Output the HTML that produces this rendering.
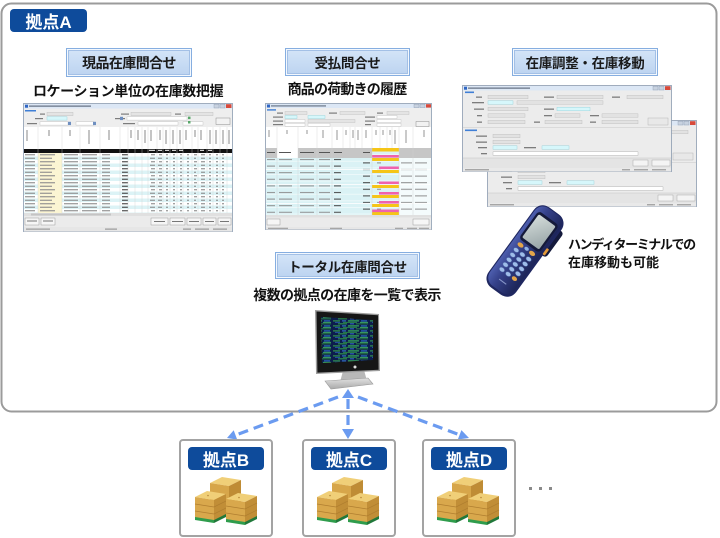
<!DOCTYPE html>
<html><head><meta charset="utf-8">
<style>
html,body{margin:0;padding:0;background:#fff;}
#c{position:relative;width:720px;height:538px;overflow:hidden;background:#fff;font-family:"Liberation Sans","Noto Sans CJK JP",sans-serif;}
svg{position:absolute;left:0;top:0;}
.t{position:absolute;font-weight:bold;color:#111;white-space:nowrap;font-size:14px;line-height:16px;text-align:center;}
.lbl{position:absolute;box-sizing:border-box;border:1.5px solid #86aee0;background:linear-gradient(#d4e5f8,#bcd3f0);box-shadow:inset 0 0 0 1px #f3f8fe, inset 0 0 0 2px #a3c0e6;display:flex;align-items:center;justify-content:center;font-weight:bold;font-size:13.5px;color:#1a1a1a;letter-spacing:-0.3px;}
.bdg{position:absolute;background:#0e4b9b;border-radius:4px;color:#fff;font-weight:bold;font-size:17px;display:flex;align-items:center;justify-content:center;}
</style></head>
<body><div id="c">
<svg width="720" height="538" viewBox="0 0 720 538">
<defs>
 <pattern id="r1" x="0" y="50" width="210" height="7" patternUnits="userSpaceOnUse">
  <rect width="210" height="3.5" fill="#ffffff"/>
  <rect y="3.5" width="210" height="3.5" fill="#dcf3f6"/>
  <rect x="15" width="24" height="7" fill="#fbf5d3"/>
  <g fill="#8c8c8c">
   <rect x="2" y="1.2" width="10" height="1.1"/><rect x="17" y="1.2" width="15" height="1.1"/><rect x="41" y="1.2" width="14" height="1.1"/><rect x="59" y="1.2" width="15" height="1.1"/><rect x="79" y="1.2" width="8" height="1.1"/><rect x="99" y="1.2" width="6" height="1.1" fill="#444"/>
   <rect x="128" y="1.2" width="4" height="1.1"/><rect x="136" y="1.2" width="3" height="1.1"/><rect x="143" y="1.2" width="2" height="1.1"/><rect x="150" y="1.2" width="2" height="1.1"/><rect x="157" y="1.2" width="2" height="1.1"/><rect x="164" y="1.2" width="2" height="1.1"/><rect x="171" y="1.2" width="3" height="1.1"/><rect x="178" y="1.2" width="4" height="1.1"/><rect x="186" y="1.2" width="2" height="1.1"/><rect x="193" y="1.2" width="2" height="1.1"/><rect x="199" y="1.2" width="2" height="1.1"/>
   <rect x="2" y="4.7" width="10" height="1.1"/><rect x="17" y="4.7" width="12" height="1.1"/><rect x="41" y="4.7" width="14" height="1.1"/><rect x="59" y="4.7" width="15" height="1.1"/><rect x="79" y="4.7" width="8" height="1.1"/><rect x="99" y="4.7" width="6" height="1.1" fill="#444"/>
   <rect x="127" y="4.7" width="5" height="1.1"/><rect x="135" y="4.7" width="4" height="1.1"/><rect x="143" y="4.7" width="2" height="1.1"/><rect x="150" y="4.7" width="2" height="1.1"/><rect x="157" y="4.7" width="2" height="1.1"/><rect x="164" y="4.7" width="2" height="1.1"/><rect x="171" y="4.7" width="2" height="1.1"/><rect x="178" y="4.7" width="4" height="1.1"/><rect x="186" y="4.7" width="2" height="1.1"/><rect x="193" y="4.7" width="2" height="1.1"/><rect x="199" y="4.7" width="2" height="1.1"/>
  </g>
 </pattern>
 <pattern id="r2" x="0" y="55" width="167" height="6.6" patternUnits="userSpaceOnUse">
  <rect width="167" height="6.6" fill="#daf2f5"/>
  <rect y="3" width="167" height="0.5" fill="#ffffff"/>
  <rect x="134" width="33" height="6.6" fill="#f4fbfc"/>
  <g fill="#8e8e8e">
   <rect x="2" y="1" width="8" height="1"/><rect x="14" y="1" width="13" height="1"/><rect x="35" y="1" width="14" height="1"/><rect x="54" y="1" width="11" height="1"/><rect x="69" y="1" width="7" height="1" fill="#444"/>
   <rect x="98" y="4.4" width="7" height="1" fill="#444"/><rect x="112" y="4.4" width="4" height="1"/><rect x="136" y="4.4" width="11" height="1"/><rect x="150" y="4.4" width="12" height="1"/>
  </g>
 </pattern>
 <pattern id="scr" x="0" y="0" width="37" height="5" patternUnits="userSpaceOnUse">
  <rect width="37" height="5" fill="#0c1d4c"/>
  <rect x="0" y="0.4" width="7" height="1" fill="#3aa84c"/>
  <rect x="9" y="0.4" width="4" height="1" fill="#3a78d8"/>
  <rect x="15" y="0.4" width="11" height="1" fill="#40c25e"/>
  <rect x="28" y="0.4" width="6" height="1" fill="#2f6fd0"/>
  <rect x="2" y="1.9" width="5" height="0.8" fill="#2a5fb8"/>
  <rect x="10" y="1.9" width="14" height="0.8" fill="#2e9a4a"/>
  <rect x="27" y="1.9" width="8" height="0.8" fill="#48c868"/>
  <rect x="5" y="3.4" width="9" height="0.9" fill="#36b050"/>
  <rect x="17" y="3.4" width="4" height="0.9" fill="#3a78d8"/>
  <rect x="23" y="3.4" width="12" height="0.9" fill="#2c8c46"/>
 </pattern>
 <linearGradient id="hhg" x1="0" y1="0" x2="1" y2="0">
  <stop offset="0" stop-color="#4d5eae"/><stop offset="0.35" stop-color="#35418a"/><stop offset="1" stop-color="#1d2558"/>
 </linearGradient>
 <linearGradient id="hsg" x1="0" y1="0" x2="1" y2="1">
  <stop offset="0" stop-color="#d4dcda"/><stop offset="1" stop-color="#97a4a6"/>
 </linearGradient>
 <linearGradient id="stg" x1="0" y1="0" x2="0" y2="1">
  <stop offset="0" stop-color="#e2e2e2"/><stop offset="1" stop-color="#a9a9a9"/>
 </linearGradient>
 <g id="win">
  <rect x="0.5" y="0.5" width="209" height="86" fill="#ececec" stroke="#8b9bb0" stroke-width="0.8"/>
  <rect x="1" y="1" width="208" height="4.5" fill="#dce7f5"/>
  <rect x="2" y="1.7" width="3" height="3" fill="#2f66c4"/>
  <rect x="6" y="2.4" width="62" height="1.5" fill="#7a8698"/>
  <rect x="191" y="1.2" width="5" height="3.8" fill="#c8d2e0" stroke="#8d9bb0" stroke-width="0.4"/>
  <rect x="197" y="1.2" width="5" height="3.8" fill="#c8d2e0" stroke="#8d9bb0" stroke-width="0.4"/>
  <rect x="203" y="1.2" width="5.5" height="3.8" fill="#d84a3a"/>
  <rect x="3" y="6.5" width="9" height="1.6" fill="#3f7fd6"/>
  <rect x="3" y="44.5" width="12" height="1.6" fill="#3f7fd6"/>
  <line x1="1" y1="42.5" x2="209" y2="42.5" stroke="#c8c8c8" stroke-width="0.5"/>
  <g fill="#7c7c7c">
   <rect x="14" y="11.5" width="6" height="1.3"/><rect x="82" y="11.5" width="10" height="1.3"/><rect x="150" y="11.5" width="8" height="1.3"/>
   <rect x="10" y="17" width="12" height="1.3"/>
   <rect x="12" y="23.5" width="10" height="1.3"/><rect x="82" y="23.5" width="10" height="1.3"/>
   <rect x="15" y="30" width="5" height="1.3"/><rect x="82" y="30" width="8" height="1.3"/><rect x="128" y="30" width="9" height="1.3"/>
   <rect x="15" y="36.5" width="5" height="1.3"/><rect x="72" y="36.5" width="6" height="1.3"/><rect x="128" y="36.5" width="6" height="1.3"/>
   <rect x="14" y="50.5" width="11" height="1.3"/><rect x="14" y="56.5" width="11" height="1.3"/>
   <rect x="16" y="62" width="9" height="1.3"/><rect x="62" y="62" width="12" height="1.3"/>
   <rect x="19" y="68" width="6" height="1.3"/>
  </g>
  <g stroke="#bbbbbb" stroke-width="0.4" fill="#e2e2e2">
   <rect x="26" y="10.3" width="40" height="3.5"/><rect x="95" y="10.3" width="46" height="3.5"/><rect x="165" y="10.3" width="36" height="3.5"/>
   <rect x="55" y="15.8" width="86" height="3.5"/>
   <rect x="26" y="22.3" width="40" height="3.5"/>
   <rect x="26" y="28.8" width="37" height="3.5"/><rect x="93" y="28.8" width="25" height="3.5"/><rect x="140" y="28.8" width="36" height="3.5"/>
   <rect x="26" y="35.3" width="37" height="3.5"/><rect x="83" y="35.3" width="37" height="3.5"/><rect x="140" y="35.3" width="36" height="3.5"/>
   <rect x="31" y="49.3" width="27" height="3.5"/><rect x="31" y="55.3" width="27" height="3.5"/>
   <rect x="186" y="33" width="20" height="7" fill="#e8e8e8" stroke="#aaaaaa"/>
  </g>
  <g stroke="#8fcfd8" stroke-width="0.4" fill="#d6f7fb">
   <rect x="26" y="15.8" width="25" height="3.5"/><rect x="95" y="22.3" width="33" height="3.5"/>
   <rect x="31" y="60.8" width="24" height="3.5"/><rect x="80" y="60.8" width="27" height="3.5"/>
  </g>
  <rect x="31" y="66.8" width="145" height="3.5" fill="#ffffff" stroke="#aaaaaa" stroke-width="0.4"/>
  <rect x="1" y="73" width="208" height="10" fill="#e4e4e4"/>
  <line x1="1" y1="73" x2="209" y2="73" stroke="#c4c4c4" stroke-width="0.5"/>
  <rect x="171" y="75" width="15" height="6" fill="#f4f4f4" stroke="#999" stroke-width="0.4"/>
  <rect x="190" y="75" width="18" height="6" fill="#f4f4f4" stroke="#999" stroke-width="0.4"/>
  <rect x="1" y="83" width="208" height="3.5" fill="#e9e9e9"/>
  <g fill="#8a8a8a"><rect x="3" y="84.3" width="24" height="1"/><rect x="160" y="84.3" width="8" height="1"/><rect x="172" y="84.3" width="14" height="1"/><rect x="190" y="84.3" width="14" height="1"/></g>
 </g>
 <g id="pal">
  <g transform="translate(15,-1)">
   <polygon points="0,6 12,0 31,3 19,9" fill="#f0cf78"/>
   <polygon points="0,6 19,9 19,31 0,28" fill="#d7a64a"/>
   <polygon points="19,9 31,3 31,25 19,31" fill="#bf8c35"/>
  </g>
  <g transform="translate(0,13)">
   <polygon points="0,6 12,0 31,3 19,9" fill="#f0cf78"/>
   <polygon points="0,6 19,9 19,31 0,28" fill="#d9a84c"/>
   <polygon points="19,9 31,3 31,25 19,31" fill="#c18e37"/>
   <g stroke="#b07f30" stroke-width="0.7"><line x1="0" y1="13" x2="19" y2="16"/><line x1="0" y1="20" x2="19" y2="23"/><line x1="19" y1="16" x2="31" y2="10"/><line x1="19" y1="23" x2="31" y2="17"/></g>
   <polygon points="0,26 19,29 19,32 0,29" fill="#2f9c4c"/>
   <polygon points="19,29 31,23 31,26 19,32" fill="#21783a"/>
   <circle cx="13" cy="4.5" r="0.8" fill="#b5873a"/>
  </g>
  <g transform="translate(31,15)">
   <polygon points="0,6 12,0 31,3 19,9" fill="#f0cf78"/>
   <polygon points="0,6 19,9 19,31 0,28" fill="#d9a84c"/>
   <polygon points="19,9 31,3 31,25 19,31" fill="#c18e37"/>
   <g stroke="#b07f30" stroke-width="0.7"><line x1="0" y1="13" x2="19" y2="16"/><line x1="0" y1="20" x2="19" y2="23"/><line x1="19" y1="16" x2="31" y2="10"/><line x1="19" y1="23" x2="31" y2="17"/></g>
   <polygon points="0,26 19,29 19,32 0,29" fill="#2f9c4c"/>
   <polygon points="19,29 31,23 31,26 19,32" fill="#21783a"/>
   <circle cx="13" cy="4.5" r="0.8" fill="#b5873a"/>
  </g>
 </g>
</defs>

<!-- outer box -->
<rect x="1.5" y="3.5" width="715" height="408" rx="10" fill="#ffffff" stroke="#9b9b9b" stroke-width="2"/>

<!-- Screenshot 1 -->
<g transform="translate(23,103)">
 <rect x="0.5" y="0.5" width="209" height="128" fill="#eeeeee" stroke="#8b9bb0" stroke-width="0.8"/>
 <rect x="1" y="1" width="208" height="4.5" fill="#dce7f5"/>
 <rect x="2" y="1.7" width="3" height="3" fill="#2f66c4"/>
 <rect x="6" y="2.4" width="62" height="1.5" fill="#7a8698"/>
 <rect x="191" y="1.2" width="5" height="3.8" fill="#c8d2e0" stroke="#8d9bb0" stroke-width="0.4"/>
 <rect x="197" y="1.2" width="5" height="3.8" fill="#c8d2e0" stroke="#8d9bb0" stroke-width="0.4"/>
 <rect x="203" y="1.2" width="5.5" height="3.8" fill="#d84a3a"/>
 <rect x="2" y="7" width="11" height="1.5" fill="#3f7fd6"/>
 <g fill="#7c7c7c"><rect x="17" y="10.5" width="5" height="1.2"/><rect x="12" y="15" width="8" height="1.2"/><rect x="4" y="20" width="10" height="1.2"/><rect x="98" y="10.5" width="8" height="1.2"/><rect x="92" y="15" width="10" height="1.2"/><rect x="152" y="10.5" width="6" height="1.2"/><rect x="100" y="20" width="12" height="1.2"/></g>
 <g stroke="#bbbbbb" stroke-width="0.4" fill="#e4e4e4">
  <rect x="24" y="9.3" width="26" height="3.3"/><rect x="108" y="9.3" width="40" height="3.3"/><rect x="162" y="9.3" width="28" height="3.3"/>
  <rect x="104" y="13.8" width="60" height="3.3" fill="#ffffff"/>
  <rect x="17" y="18.8" width="28" height="3.3" fill="#ffffff"/><rect x="53" y="18.8" width="18" height="3.3" fill="#ffffff"/><rect x="115" y="18.8" width="40" height="3.3" fill="#ffffff"/><rect x="160" y="18.8" width="20" height="3.3" fill="#ffffff"/>
  <rect x="193" y="15" width="14" height="6.5" fill="#f2f2f2" stroke="#777"/>
 </g>
 <rect x="24" y="13.8" width="20" height="3.3" fill="#d6f7fb" stroke="#8fcfd8" stroke-width="0.4"/>
 <g fill="#6f8fc0"><rect x="45" y="18.8" width="3" height="3.3"/><rect x="97" y="13.8" width="3" height="3.3"/><rect x="70" y="18.8" width="3" height="3.3"/></g>
 <g fill="#59a86a"><rect x="165" y="13.6" width="2.5" height="2.5"/><rect x="165" y="18" width="2.5" height="2.5"/></g>
 <rect x="1" y="24" width="208" height="22" fill="#ffffff"/>
 <rect x="1" y="46" width="208" height="4" fill="#111111"/>
 <rect x="1" y="50" width="208" height="60" fill="url(#r1)"/>
 <g stroke="#cfcfcf" stroke-width="0.4">
  <line x1="15" y1="24" x2="15" y2="110"/><line x1="39" y1="24" x2="39" y2="110"/><line x1="57" y1="24" x2="57" y2="110"/><line x1="77" y1="24" x2="77" y2="110"/><line x1="97" y1="24" x2="97" y2="110"/><line x1="105" y1="24" x2="105" y2="110"/><line x1="112" y1="24" x2="112" y2="110"/><line x1="119" y1="24" x2="119" y2="110"/><line x1="125" y1="24" x2="125" y2="110"/><line x1="134" y1="24" x2="134" y2="110"/><line x1="140" y1="24" x2="140" y2="110"/><line x1="147" y1="24" x2="147" y2="110"/><line x1="154" y1="24" x2="154" y2="110"/><line x1="160" y1="24" x2="160" y2="110"/><line x1="169" y1="24" x2="169" y2="110"/><line x1="175" y1="24" x2="175" y2="110"/><line x1="184" y1="24" x2="184" y2="110"/><line x1="190" y1="24" x2="190" y2="110"/><line x1="197" y1="24" x2="197" y2="110"/><line x1="204" y1="24" x2="204" y2="110"/>
 </g>
 <g stroke="#8a8a8a" stroke-width="1">
  <line x1="4" y1="27" x2="4" y2="38"/><line x1="26" y1="27" x2="26" y2="33"/><line x1="47" y1="27" x2="47" y2="33"/><line x1="66" y1="27" x2="66" y2="41"/><line x1="86" y1="27" x2="86" y2="37"/><line x1="108" y1="27" x2="108" y2="35"/><line x1="115" y1="27" x2="115" y2="37"/><line x1="122" y1="27" x2="122" y2="40"/><line x1="128" y1="27" x2="128" y2="38"/><line x1="137" y1="27" x2="137" y2="37"/><line x1="143" y1="27" x2="143" y2="41"/><line x1="150" y1="27" x2="150" y2="41"/><line x1="157" y1="27" x2="157" y2="41"/><line x1="163" y1="27" x2="163" y2="37"/><line x1="172" y1="27" x2="172" y2="34"/><line x1="178" y1="27" x2="178" y2="37"/><line x1="187" y1="27" x2="187" y2="41"/><line x1="193" y1="27" x2="193" y2="41"/><line x1="200" y1="27" x2="200" y2="41"/><line x1="206" y1="27" x2="206" y2="41"/>
 </g>
 <g fill="#ffffff"><rect x="126" y="46.8" width="6" height="1"/><rect x="135" y="46.8" width="4" height="1"/><rect x="142" y="46.8" width="4" height="1"/><rect x="149" y="46.8" width="4" height="1"/><rect x="156" y="46.8" width="4" height="1"/><rect x="177" y="46.8" width="4" height="1"/><rect x="185" y="46.8" width="4" height="1"/></g>
 <rect x="1" y="110" width="208" height="3" fill="#e0e0e0"/>
 <rect x="8" y="110.5" width="80" height="2" fill="#c4c4c4"/>
 <rect x="1" y="113" width="208" height="11" fill="#ebebeb"/>
 <g fill="#f6f6f6" stroke="#888" stroke-width="0.4">
  <rect x="2" y="115" width="14" height="7"/><rect x="18" y="115" width="14" height="7"/>
  <rect x="128" y="115" width="17" height="7"/><rect x="147" y="115" width="15" height="7"/><rect x="164" y="115" width="14" height="7"/><rect x="180" y="115" width="13" height="7"/><rect x="195" y="115" width="13" height="7"/>
 </g>
 <g fill="#777"><rect x="4" y="117.5" width="10" height="1"/><rect x="20" y="117.5" width="10" height="1"/><rect x="131" y="118" width="11" height="1"/><rect x="149" y="118" width="11" height="1"/><rect x="166" y="118" width="10" height="1"/><rect x="182" y="118" width="9" height="1"/><rect x="197" y="118" width="9" height="1"/></g>
 <rect x="1" y="124" width="208" height="4.5" fill="#e6e6e6"/>
 <g fill="#8a8a8a"><rect x="3" y="125.6" width="24" height="1"/><rect x="82" y="125.6" width="12" height="1"/><rect x="160" y="125.6" width="8" height="1"/><rect x="172" y="125.6" width="14" height="1"/><rect x="190" y="125.6" width="14" height="1"/></g>
</g>

<!-- Screenshot 2 -->
<g transform="translate(265,103)">
 <rect x="0.5" y="0.5" width="166" height="126" fill="#eeeeee" stroke="#8b9bb0" stroke-width="0.8"/>
 <rect x="1" y="1" width="165" height="4" fill="#dce7f5"/>
 <rect x="2" y="1.5" width="3" height="3" fill="#2f66c4"/>
 <rect x="6" y="2.2" width="55" height="1.4" fill="#7a8698"/>
 <rect x="149" y="1.2" width="5" height="3.4" fill="#c8d2e0" stroke="#8d9bb0" stroke-width="0.4"/>
 <rect x="155" y="1.2" width="5" height="3.4" fill="#c8d2e0" stroke="#8d9bb0" stroke-width="0.4"/>
 <rect x="161" y="1.2" width="5" height="3.4" fill="#d84a3a"/>
 <rect x="2" y="6.2" width="9" height="1.4" fill="#3f7fd6"/>
 <g fill="#7c7c7c"><rect x="12" y="9.5" width="6" height="1.2"/><rect x="8" y="13.5" width="10" height="1.2"/><rect x="8" y="17.5" width="10" height="1.2"/><rect x="8" y="21" width="10" height="1.2"/><rect x="64" y="9.5" width="8" height="1.2"/><rect x="100" y="13.5" width="10" height="1.2"/><rect x="112" y="9.5" width="6" height="1.2"/><rect x="100" y="17.5" width="10" height="1.2"/><rect x="100" y="21" width="6" height="1.2"/></g>
 <g stroke="#bbbbbb" stroke-width="0.4" fill="#e4e4e4">
  <rect x="20" y="8.5" width="22" height="3"/><rect x="75" y="8.5" width="25" height="3"/><rect x="122" y="8.5" width="22" height="3"/>
  <rect x="112" y="12.5" width="20" height="3" fill="#ffffff"/>
  <rect x="20" y="16.5" width="20" height="3" fill="#ffffff"/><rect x="43" y="16.5" width="47" height="3"/><rect x="112" y="16.5" width="24" height="3" fill="#ffffff"/>
  <rect x="20" y="20.3" width="20" height="3" fill="#ffffff"/><rect x="43" y="20.3" width="22" height="3" fill="#ffffff"/><rect x="112" y="20.3" width="24" height="3" fill="#ffffff"/>
  <rect x="151" y="18.5" width="13" height="5" fill="#f2f2f2" stroke="#777"/>
 </g>
 <g stroke="#8fcfd8" stroke-width="0.4" fill="#d6f7fb"><rect x="20" y="12.5" width="12" height="3"/><rect x="43" y="12.5" width="17" height="3"/></g>
 <rect x="1" y="24" width="165" height="21" fill="#ffffff"/>
 <rect x="1" y="45" width="165" height="67" fill="url(#r2)"/>
 <rect x="1" y="45" width="106" height="10" fill="#c6c6c6"/>
 <rect x="12" y="45" width="21" height="10" fill="#ffffff"/>
 <g fill="#555"><rect x="2" y="49" width="8" height="1"/><rect x="14" y="49" width="12" height="1"/><rect x="35" y="49" width="14" height="1"/><rect x="54" y="49" width="11" height="1"/><rect x="69" y="49" width="8" height="1"/><rect x="98" y="49" width="7" height="1"/></g>
 <rect x="134" y="45" width="32" height="10" fill="#c6c6c6"/>
 <g fill="#ffffff"><rect x="1" y="66" width="165" height="0.8"/><rect x="1" y="81" width="165" height="0.8"/><rect x="1" y="100" width="165" height="0.8"/></g>
 <g fill="#f5c518">
  <rect x="107" y="45" width="27" height="3.5"/><rect x="107" y="55" width="27" height="3"/><rect x="107" y="67" width="27" height="3"/><rect x="107" y="82" width="27" height="3"/><rect x="107" y="92" width="27" height="3"/><rect x="107" y="101" width="27" height="3"/><rect x="107" y="109" width="27" height="3"/>
 </g>
 <g fill="#ef62ad">
  <rect x="107" y="52" width="27" height="2.6"/><rect x="114" y="63.5" width="20" height="2.6"/><rect x="114" y="78.5" width="20" height="2.6"/><rect x="114" y="89" width="20" height="2.6"/><rect x="114" y="98" width="20" height="2.6"/><rect x="107" y="106.5" width="27" height="2.6"/>
 </g>
 <g stroke="#cfcfcf" stroke-width="0.4">
  <line x1="12" y1="24" x2="12" y2="112"/><line x1="33" y1="24" x2="33" y2="112"/><line x1="52" y1="24" x2="52" y2="112"/><line x1="67" y1="24" x2="67" y2="112"/><line x1="78" y1="24" x2="78" y2="45"/><line x1="85" y1="24" x2="85" y2="45"/><line x1="90" y1="24" x2="90" y2="45"/><line x1="97" y1="24" x2="97" y2="45"/><line x1="107" y1="24" x2="107" y2="112"/><line x1="115" y1="24" x2="115" y2="45"/><line x1="122" y1="24" x2="122" y2="45"/><line x1="127" y1="24" x2="127" y2="45"/><line x1="134" y1="24" x2="134" y2="112"/><line x1="148" y1="24" x2="148" y2="112"/>
 </g>
 <g stroke="#8a8a8a" stroke-width="0.9">
  <line x1="4" y1="27" x2="4" y2="34"/><line x1="22" y1="27" x2="22" y2="31"/><line x1="42" y1="27" x2="42" y2="31"/><line x1="58" y1="27" x2="58" y2="35"/><line x1="72" y1="27" x2="72" y2="37"/><line x1="81" y1="27" x2="81" y2="32"/><line x1="88" y1="27" x2="88" y2="35"/><line x1="93" y1="27" x2="93" y2="37"/><line x1="101" y1="27" x2="101" y2="35"/><line x1="111" y1="27" x2="111" y2="32"/><line x1="118" y1="27" x2="118" y2="32"/><line x1="125" y1="27" x2="125" y2="32"/><line x1="130" y1="27" x2="130" y2="41"/><line x1="141" y1="27" x2="141" y2="40"/><line x1="159" y1="27" x2="159" y2="34"/>
 </g>
 <rect x="1" y="112" width="165" height="2.5" fill="#e0e0e0"/>
 <rect x="1" y="114.5" width="165" height="9.5" fill="#ebebeb"/>
 <rect x="2" y="116" width="13" height="6" fill="#f6f6f6" stroke="#888" stroke-width="0.4"/>
 <rect x="148" y="116" width="16" height="6" fill="#f6f6f6" stroke="#888" stroke-width="0.4"/>
 <rect x="1" y="124" width="165" height="2.5" fill="#e6e6e6"/>
 <g fill="#8a8a8a"><rect x="3" y="124.8" width="20" height="0.9"/><rect x="65" y="124.8" width="12" height="0.9"/><rect x="130" y="124.8" width="8" height="0.9"/><rect x="142" y="124.8" width="10" height="0.9"/><rect x="154" y="124.8" width="10" height="0.9"/></g>
</g>

<!-- Screenshot 3 windows -->
<use href="#win" x="487" y="120"/>
<use href="#win" x="462" y="85"/>

<!-- Handheld terminal -->
<g transform="translate(525,251) rotate(36) scale(1.1)">
 <rect x="12" y="-34" width="7" height="28" rx="3" fill="#141a3c"/>
 <rect x="-15.5" y="-45" width="31" height="90" rx="10" fill="#1f2760"/>
 <rect x="-14.5" y="-44" width="28" height="87" rx="9" fill="url(#hhg)"/>
 <rect x="-11.5" y="-37" width="23" height="31" rx="3.5" fill="#151a3a"/>
 <rect x="-9.5" y="-34.5" width="19" height="26" rx="1.5" fill="url(#hsg)"/>
 <ellipse cx="-6.5" cy="-2" rx="3" ry="2" fill="#e3a54a"/>
 <ellipse cx="6.5" cy="-2" rx="3" ry="2" fill="#e3a54a"/>
 <ellipse cx="0" cy="-2.5" rx="2.2" ry="1.6" fill="#8fb2e6"/>
 <g fill="#9fbde9" stroke="#4e6aa8" stroke-width="0.4">
  <ellipse cx="-7" cy="4" rx="2.6" ry="1.9"/><ellipse cx="0" cy="4" rx="2.6" ry="1.9"/><ellipse cx="7" cy="4" rx="2.6" ry="1.9"/>
  <ellipse cx="-7" cy="9.5" rx="2.6" ry="1.9"/><ellipse cx="0" cy="9.5" rx="2.6" ry="1.9"/><ellipse cx="7" cy="9.5" rx="2.6" ry="1.9"/>
  <ellipse cx="-7" cy="15" rx="2.6" ry="1.9"/><ellipse cx="0" cy="15" rx="2.6" ry="1.9"/><ellipse cx="7" cy="15" rx="2.6" ry="1.9"/>
  <ellipse cx="-7" cy="20.5" rx="2.6" ry="1.9"/><ellipse cx="0" cy="20.5" rx="2.6" ry="1.9"/><ellipse cx="7" cy="20.5" rx="2.6" ry="1.9"/>
  <ellipse cx="-7" cy="26" rx="2.6" ry="1.9"/><ellipse cx="0" cy="26" rx="2.6" ry="1.9"/>
 </g>
 <ellipse cx="7" cy="26" rx="2.6" ry="1.9" fill="#e3a54a"/>
 <rect x="14.5" y="-14" width="2.5" height="7" rx="1" fill="#e39a3a"/>
 <rect x="-4" y="34" width="8" height="1" fill="#8796c8"/>
</g>

<!-- Monitor -->
<g>
 <polygon points="343,371 364,370 367,381 340,382" fill="#b8b8b8"/>
 <polygon points="325,381 368,378 373,384 331,389" fill="url(#stg)" stroke="#9a9a9a" stroke-width="0.6"/>
 <polygon points="315,310 379,314 380,371 316,374" fill="#9c9c9c"/>
 <polygon points="316.5,311.5 378,315.3 378.6,369.8 317.4,372.6" fill="#161616"/>
 <polygon points="321,317 373,320 373,360 322,363" fill="url(#scr)"/>
 <circle cx="355" cy="367" r="1.5" fill="#dddddd"/>
</g>

<!-- Arrows -->
<g stroke="#6b9bf0" stroke-width="3.2" fill="none" stroke-dasharray="10 6">
 <line x1="348" y1="399" x2="348" y2="430"/>
 <line x1="338" y1="397" x2="236" y2="435"/>
 <line x1="358" y1="397" x2="460" y2="435"/>
</g>
<g fill="#6b9bf0">
 <polygon points="348,389 342,398 354,398"/>
 <polygon points="348,439 342,429 354,429"/>
 <polygon points="227,438 237.2,439.6 233.7,430.2"/>
 <polygon points="469,438 457.8,439.5 461.4,430.1"/>
</g>

<!-- bottom boxes -->
<g fill="#ffffff" stroke="#a3a3a3" stroke-width="2">
 <rect x="180" y="440" width="92" height="96" rx="3"/>
 <rect x="303" y="440" width="92" height="96" rx="3"/>
 <rect x="423" y="440" width="92" height="96" rx="3"/>
</g>
<use href="#pal" x="195" y="478"/>
<use href="#pal" x="317" y="478"/>
<use href="#pal" x="437" y="478"/>
<g fill="#8a8a8a">
 <rect x="529" y="487" width="3" height="3"/><rect x="539" y="487" width="3" height="3"/><rect x="549" y="487" width="3" height="3"/>
</g>
</svg>

<div class="bdg" style="left:10px;top:9px;width:77px;height:23px;">拠点A</div>

<div class="lbl" style="left:66px;top:48px;width:126px;height:29px;font-size:14px;letter-spacing:-0.6px;">現品在庫問合せ</div>
<div class="t" style="left:28px;top:83px;width:200px;letter-spacing:-0.4px;">ロケーション単位の在庫数把握</div>

<div class="lbl" style="left:285px;top:48px;width:125px;height:28px;">受払問合せ</div>
<div class="t" style="left:247px;top:81px;width:200px;letter-spacing:-0.8px;">商品の荷動きの履歴</div>

<div class="lbl" style="left:512px;top:48px;width:146px;height:28px;">在庫調整・在庫移動</div>

<div class="t" style="left:568px;top:237px;text-align:left;font-size:13px;letter-spacing:-1.4px;">ハンディターミナルでの</div>
<div class="t" style="left:568px;top:255px;text-align:left;font-size:13px;">在庫移動も可能</div>

<div class="lbl" style="left:275px;top:252px;width:145px;height:27px;">トータル在庫問合せ</div>
<div class="t" style="left:237px;top:287px;width:220px;letter-spacing:-0.6px;">複数の拠点の在庫を一覧で表示</div>

<div class="bdg" style="left:188px;top:447px;width:76px;height:23px;">拠点B</div>
<div class="bdg" style="left:311px;top:447px;width:76px;height:23px;">拠点C</div>
<div class="bdg" style="left:431px;top:447px;width:76px;height:23px;">拠点D</div>
</div></body></html>
